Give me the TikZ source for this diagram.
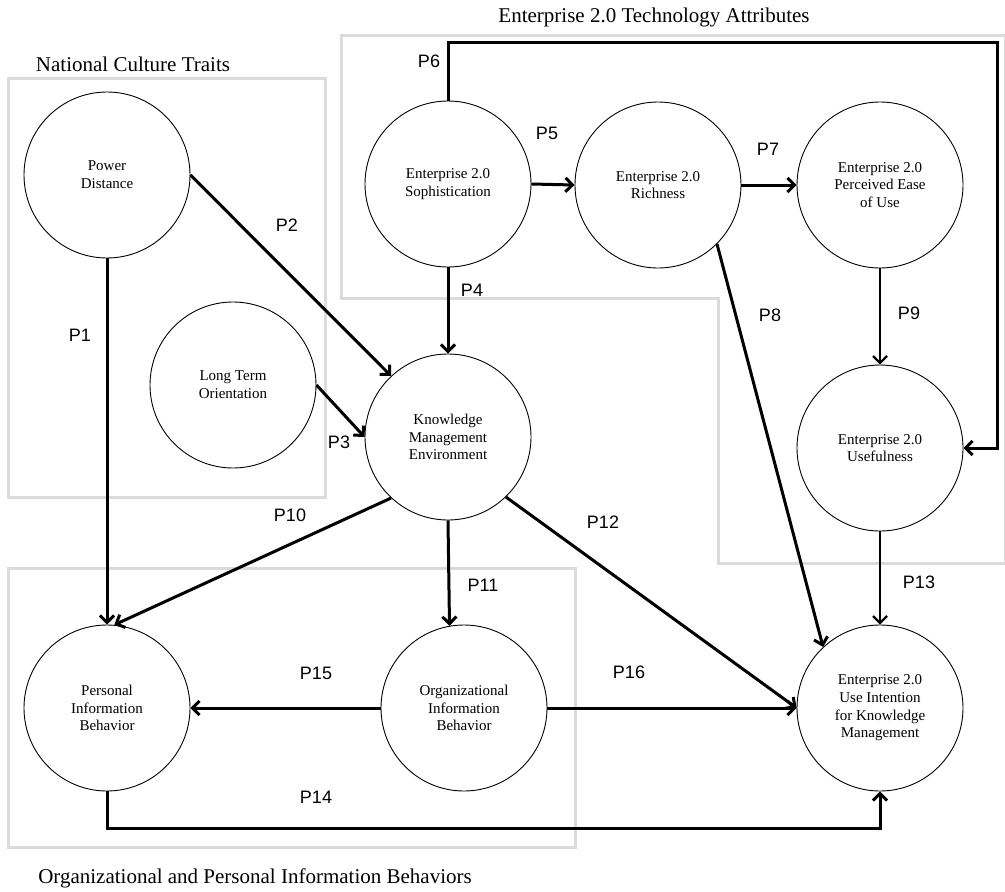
\documentclass[tikz,border=0pt]{standalone}
\usepackage{fontspec}
\setmainfont{Liberation Serif}
\newfontfamily\plabelfont{Liberation Sans}
\usetikzlibrary{arrows.meta}

\begin{document}
\begin{tikzpicture}[x=1pt, y=-1pt,
	construct/.style={draw, circle, line width=0.9pt, minimum size=166pt, inner sep=0pt,
		align=center, font=\fontsize{15}{17.7}\selectfont},
	link/.style={line width=3pt, -{Straight Barb[length=7pt,width=14pt]}},
	thinlink/.style={link, line width=2.2pt},
	group/.style={draw=black!14, line width=3pt},
	grouptitle/.style={font=\fontsize{21}{25}\selectfont},
	plabel/.style={font=\plabelfont\fontsize{18}{21}\selectfont}]

	\useasboundingbox (0,0) rectangle (1005,892);

	% --- Group boxes ---
	\draw[group] (8,78) rectangle (325,497);
	\draw[group] (341,35) -- (1005,35) -- (1005,563) -- (718,563) -- (718,298) -- (341,298) -- cycle;
	\draw[group] (8,568) rectangle (575,847);

	% --- Group titles ---
	\node[grouptitle] (titleculture) at (133,64) {National Culture Traits};
	\node[grouptitle] (titletech) at (654,17) {Enterprise 2.0 Technology Attributes};
	\node[grouptitle] (titlebehav) at (255,878) {Organizational and Personal Information Behaviors};

	% --- Constructs ---
	\node[construct] (pd) at (107,175) {Power\\Distance};
	\node[construct] (soph) at (448,184) {Enterprise 2.0\\Sophistication};
	\node[construct] (rich) at (658,185) {Enterprise 2.0\\Richness};
	\node[construct] (peou) at (880,185) {Enterprise 2.0\\Perceived Ease\\of Use};
	\node[construct] (lto) at (233,385) {Long Term\\Orientation};
	\node[construct] (kme) at (448,437) {Knowledge\\Management\\Environment};
	\node[construct] (pu) at (880,448) {Enterprise 2.0\\Usefulness};
	\node[construct] (pib) at (107,708) {Personal\\Information\\Behavior};
	\node[construct] (oib) at (464,708) {Organizational\\Information\\Behavior};
	\node[construct] (ui) at (880,708) {Enterprise 2.0\\Use Intention\\for Knowledge\\Management};

	% --- Propositions ---
	\coordinate (p6corner) at (997,42);

	\draw[link] (pd.south) -- (pib.north);
	\draw[link] (pd.east) -- (kme.133);
	\draw[link] (lto.east) -- (kme.west);
	\draw[link] (soph.south) -- (kme.north);
	\draw[link] (soph.east) -- (rich.west);
	\draw[link] (soph.north) |- (p6corner) |- (pu.east);
	\draw[link] (rich.east) -- (peou.west);
	\draw[link] (rich.-45) -- (ui.133);
	\draw[thinlink] (peou.south) -- (pu.north);
	\draw[link] (kme.-133) -- (pib.85);
	\draw[link] (kme.south) -- (oib.100);
	\draw[link] (kme.-46) -- (ui.west);
	\draw[thinlink] (pu.south) -- (ui.north);
	\draw[link] (pib.south) -- ++(0,37) -| (ui.south);
	\draw[link] (oib.west) -- (pib.east);
	\draw[link] (oib.east) -- (ui.west);

	% --- Proposition labels ---
	\node[plabel] (lp1) at (80,335) {P1};
	\node[plabel] (lp2) at (287,225) {P2};
	\node[plabel] (lp3) at (339,442) {P3};
	\node[plabel] (lp4) at (472,290) {P4};
	\node[plabel] (lp5) at (547,133) {P5};
	\node[plabel] (lp6) at (429,61) {P6};
	\node[plabel] (lp7) at (768,149) {P7};
	\node[plabel] (lp8) at (770,315) {P8};
	\node[plabel] (lp9) at (909,313) {P9};
	\node[plabel] (lp10) at (290,515) {P10};
	\node[plabel] (lp11) at (483,585) {P11};
	\node[plabel] (lp12) at (603,522) {P12};
	\node[plabel] (lp13) at (919,582) {P13};
	\node[plabel] (lp14) at (316,797) {P14};
	\node[plabel] (lp15) at (316,673) {P15};
	\node[plabel] (lp16) at (629,672) {P16};

\end{tikzpicture}
\end{document}
